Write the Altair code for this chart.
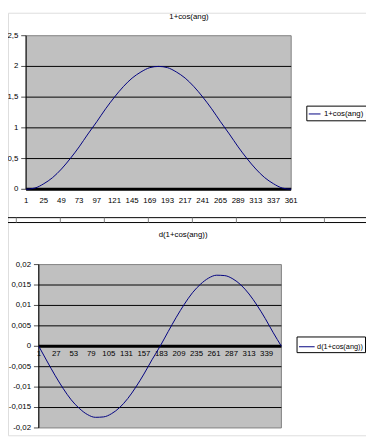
import altair as alt
import pandas as pd

NAVY = "#000080"
FONT = "Liberation Sans"

# ---- data ----
ang = [1, 13, 25, 37, 49, 61, 73, 85, 97, 109, 121, 133, 145, 157, 169, 181,
       193, 205, 217, 229, 241, 253, 265, 277, 289, 301, 313, 325, 337, 349, 361]
top_vals = [0.00, 0.02, 0.09, 0.19, 0.33, 0.50, 0.69, 0.90, 1.10, 1.31, 1.50, 1.67,
            1.81, 1.91, 1.98, 2.00, 1.98, 1.91, 1.81, 1.67, 1.50, 1.31, 1.10, 0.90,
            0.69, 0.50, 0.33, 0.19, 0.09, 0.02, 0.00]
bot_vals = [0.0, -0.0036, -0.0071, -0.0103, -0.0131, -0.0152, -0.0167, -0.0174,
            -0.0173, -0.0165, -0.0150, -0.0128, -0.0100, -0.0068, -0.0033, 0.0,
            0.0036, 0.0071, 0.0103, 0.0131, 0.0152, 0.0167, 0.0174, 0.0173,
            0.0165, 0.0150, 0.0128, 0.0100, 0.0068, 0.0033, 0.0]
top_name = "1+cos(ang)"
bot_name = "d(1+cos(ang))"
top_xticks = [1, 25, 49, 73, 97, 121, 145, 169, 193, 217, 241, 265, 289, 313, 337, 361]
bot_xticks = [1, 27, 53, 79, 105, 131, 157, 183, 209, 235, 261, 287, 313, 339]
top_yticks = [0, 0.5, 1, 1.5, 2, 2.5]
bot_yticks = [-0.02, -0.015, -0.01, -0.005, 0, 0.005, 0.01, 0.015, 0.02]
sheet_cols = [0, 1, 2, 3, 4, 5, 6, 7]

W, H = 366, 432


def num_label(v):
    return ("%g" % v).replace(".", ",")


def panel(xs, ys, name, xticks, yticks, xrange, yrange, xlab_dy, leg):
    xmin, xmax = xs[0], xs[-1]
    ymin, ymax = yticks[0], yticks[-1]
    sx = alt.Scale(domain=[xmin, xmax], range=xrange, nice=False, zero=False)
    sy = alt.Scale(domain=[ymin, ymax], range=yrange, nice=False, zero=False)

    frame = pd.DataFrame({"x0": [xmin], "x1": [xmax], "y0": [ymin], "y1": [ymax]})
    bg = alt.Chart(frame).mark_rect(fill="#C0C0C0", stroke="#808080", strokeWidth=1).encode(
        x=alt.X("x0:Q", scale=sx, axis=None), x2="x1:Q",
        y=alt.Y("y0:Q", scale=sy, axis=None), y2="y1:Q")

    gvals = [v for v in yticks if v not in (0, ymin, ymax)]
    grid_df = pd.DataFrame({"g": gvals, "x0": [xmin] * len(gvals), "x1": [xmax] * len(gvals)})
    grid = alt.Chart(grid_df).mark_rule(color="black", strokeWidth=1).encode(
        x=alt.X("x0:Q", axis=None), x2="x1:Q", y=alt.Y("g:Q", axis=None))

    zero_df = pd.DataFrame({"z": [0], "x0": [xmin], "x1": [xmax]})
    zero = alt.Chart(zero_df).mark_rule(color="black", strokeWidth=3).encode(
        x=alt.X("x0:Q", axis=None), x2="x1:Q", y=alt.Y("z:Q", axis=None))

    ydom = alt.Chart(frame).mark_rule(color="black", strokeWidth=1).encode(
        x=alt.X("x0:Q", axis=None), y=alt.Y("y0:Q", axis=None), y2="y1:Q")

    yt_df = pd.DataFrame({"t": yticks, "x0": [xmin] * len(yticks),
                          "lab": [num_label(v) for v in yticks]})
    yticks_m = alt.Chart(yt_df).mark_tick(orient="horizontal", size=5, thickness=1,
                                          color="black", xOffset=-2.5).encode(
        x=alt.X("x0:Q", axis=None), y=alt.Y("t:Q", axis=None))
    ylabs = alt.Chart(yt_df).mark_text(align="right", baseline="middle", dx=-8,
                                       fontSize=8, font=FONT, color="black").encode(
        x=alt.X("x0:Q", axis=None), y=alt.Y("t:Q", axis=None), text="lab:N")

    xt_df = pd.DataFrame({"t": xticks, "z": [0] * len(xticks),
                          "lab": [str(v) for v in xticks]})
    xlabs = alt.Chart(xt_df).mark_text(align="center", baseline="top", dy=xlab_dy,
                                       fontSize=8, font=FONT, color="black").encode(
        x=alt.X("t:Q", axis=None), y=alt.Y("z:Q", axis=None), text="lab:N")

    df = pd.DataFrame({"ang": xs, "val": ys, "series": [name] * len(xs)})
    line = alt.Chart(df).mark_line(strokeWidth=1, interpolate="monotone").encode(
        x=alt.X("ang:Q", scale=sx, axis=None),
        y=alt.Y("val:Q", scale=sy, axis=None),
        color=alt.Color("series:N", scale=alt.Scale(range=[NAVY]), legend=alt.Legend(
            orient="none", title=None, strokeColor="black", fillColor="white", padding=2,
            symbolType="stroke", symbolStrokeWidth=1, labelFont=FONT,
            labelColor="black", cornerRadius=0, **leg)))
    return alt.layer(bg, grid, zero, ydom, yticks_m, ylabs, xlabs, line)


top = panel(ang, top_vals, top_name, top_xticks, top_yticks,
            [18.5, 289.5], [180.5, 23.5], 8,
            dict(legendX=305, legendY=95, symbolSize=144, labelOffset=3, labelFontSize=8))
bottom = panel(ang, bot_vals, bot_name, bot_xticks, bot_yticks,
               [31.5, 279.5], [424.5, 257.5], 4,
               dict(legendX=295, legendY=331, symbolSize=256, labelOffset=2, labelFontSize=7.5))

title_t = alt.Chart().mark_text(text=top_name, fontSize=8, font=FONT, baseline="top",
                                align="center", color="black").encode(
    x=alt.value(185), y=alt.value(0))
title_b = alt.Chart().mark_text(text=bot_name, fontSize=8, font=FONT, baseline="middle",
                                align="center", color="black").encode(
    x=alt.value(179), y=alt.value(227))

sep1 = alt.Chart().mark_rule(color="black", strokeWidth=1).encode(
    x=alt.value(0), x2=alt.value(W), y=alt.value(209.5))
sep2 = alt.Chart().mark_rule(color="black", strokeWidth=1).encode(
    x=alt.value(0), x2=alt.value(W), y=alt.value(214.5))
cells = alt.Chart(pd.DataFrame({"c": sheet_cols})).mark_rule(color="#808080", strokeWidth=1).encode(
    x=alt.X("c:Q", scale=alt.Scale(domain=[0, 7], range=[8.5, 323.5]), axis=None),
    y=alt.value(209.5), y2=alt.value(214.5))

chart = alt.layer(top, bottom, title_t, title_b, sep1, sep2, cells).resolve_scale(
    x="independent", y="independent", color="independent"
).properties(
    width=W, height=H, padding=0, autosize=alt.AutoSizeParams(type="none")
).configure_view(stroke="transparent", strokeWidth=0, strokeOpacity=0).configure_axis(
    domain=False, ticks=False, labels=False, grid=False
).configure(font=FONT)

chart.save("out.html", embed_options={"renderer": "svg", "actions": False})
